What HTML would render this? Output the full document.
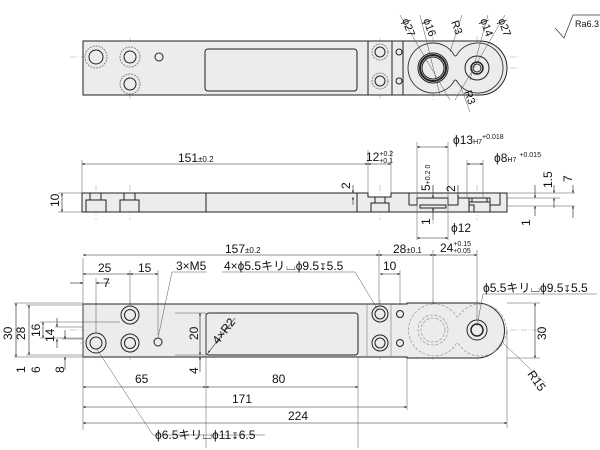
<!DOCTYPE html>
<html><head><meta charset="utf-8"><style>
html,body{margin:0;padding:0;background:#fff;}
svg{display:block;}
text{font-family:"Liberation Sans","Noto Sans CJK JP",sans-serif;fill:#111;}
</style></head><body>
<svg width="600" height="450" viewBox="0 0 600 450" xmlns="http://www.w3.org/2000/svg">
<defs>
<marker id="a" viewBox="0 0 10 10" refX="10" refY="5" markerWidth="6" markerHeight="4" orient="auto-start-reverse"><path d="M0,1 L10,5 L0,9 z" fill="#111"/></marker>
</defs>
<g stroke="#999" stroke-width="0.5" fill="none" stroke-dasharray="6 2 1 2">
<line x1="70" y1="57" x2="520" y2="57"/><line x1="120" y1="84" x2="170" y2="84"/>
<line x1="360" y1="81" x2="412" y2="81"/><line x1="400" y1="68" x2="520" y2="68"/>
<line x1="96" y1="40" x2="96" y2="76"/><line x1="130" y1="38" x2="130" y2="100"/><line x1="159" y1="48" x2="159" y2="66"/>
<line x1="380" y1="38" x2="380" y2="100"/><line x1="399" y1="45" x2="399" y2="92"/>
<line x1="433" y1="36" x2="433" y2="100"/><line x1="477" y1="36" x2="477" y2="100"/>
<line x1="96" y1="185" x2="96" y2="220"/><line x1="130" y1="185" x2="130" y2="220"/><line x1="380" y1="185" x2="380" y2="220"/>
<line x1="433" y1="185" x2="433" y2="225"/><line x1="477" y1="185" x2="477" y2="220"/>
<line x1="70" y1="330" x2="545" y2="330"/><line x1="80" y1="343" x2="170" y2="343"/><line x1="115" y1="315" x2="150" y2="315"/>
<line x1="370" y1="315" x2="410" y2="315"/><line x1="370" y1="343" x2="410" y2="343"/>
<line x1="96" y1="330" x2="96" y2="360"/><line x1="130" y1="300" x2="130" y2="360"/><line x1="158" y1="335" x2="158" y2="350"/>
<line x1="380" y1="300" x2="380" y2="360"/><line x1="400" y1="305" x2="400" y2="350"/>
<line x1="433" y1="300" x2="433" y2="360"/><line x1="477" y1="300" x2="477" y2="360"/>
</g>

<!-- TOP VIEW -->
<path d="M83,41 H480 A27,27 0 0 1 480,95 H83 Z" stroke="#222" stroke-width="1" fill="#ececec"/>
<g stroke="#222" fill="none" stroke-width="1">
<line x1="368" y1="41" x2="368" y2="95"/><line x1="392" y1="41" x2="392" y2="95"/><line x1="403" y1="41" x2="403" y2="95"/>
<path d="M433,43 A25,25 0 0 1 453,53 Q455,59 458,53 A25,25 0 1 1 458,83 Q455,77 453,83 A25,25 0 1 1 433,43 Z" stroke="#333" stroke-width="0.9"/>
<rect x="205" y="49" width="152" height="42" rx="3"/>
<circle cx="96" cy="57" r="7"/><circle cx="96" cy="57" r="11" stroke="#888" stroke-dasharray="2 1"/>
<circle cx="130" cy="57" r="6"/><circle cx="130" cy="57" r="10" stroke="#888" stroke-dasharray="2 1"/>
<circle cx="130" cy="84" r="6"/><circle cx="130" cy="84" r="10" stroke="#888" stroke-dasharray="2 1"/>
<circle cx="159" cy="57" r="4"/>
<circle cx="380" cy="52" r="5"/><circle cx="380" cy="52" r="8" stroke="#888" stroke-dasharray="2 1"/>
<circle cx="380" cy="81" r="5"/><circle cx="380" cy="81" r="8" stroke="#888" stroke-dasharray="2 1"/>
<circle cx="399" cy="52" r="3"/><circle cx="399" cy="81" r="3"/>
<circle cx="433" cy="68" r="13" stroke-width="2"/><circle cx="433" cy="68" r="15"/><circle cx="433" cy="68" r="11"/>
<circle cx="477" cy="68" r="12"/><circle cx="477" cy="68" r="6" stroke-width="1.5"/><circle cx="477" cy="68" r="4"/>
</g>
<g stroke="#555" stroke-width="0.5">
<line x1="400" y1="15" x2="450" y2="100"/><line x1="420" y1="15" x2="440" y2="95"/><line x1="462" y1="15" x2="450" y2="52"/>
<line x1="488" y1="15" x2="470" y2="80"/><line x1="505" y1="15" x2="455" y2="100"/><line x1="460" y1="85" x2="470" y2="112"/>
</g>
<g font-size="11">
<text transform="translate(402,20) rotate(70)">ϕ27</text>
<text transform="translate(423,20) rotate(70)">ϕ16</text>
<text transform="translate(451,22) rotate(70)">R3</text>
<text transform="translate(480,20) rotate(70)">ϕ14</text>
<text transform="translate(498,20) rotate(70)">ϕ27</text>
<text transform="translate(464,92) rotate(70)">R3</text>
</g>
<path d="M555,28 L564,38 L573,15 L600,15" fill="none" stroke="#333" stroke-width="0.7"/>
<text x="575" y="27" font-size="9">Ra6.3</text>

<!-- SIDE VIEW -->
<path d="M82,193 H368 V197 H391 V193 H507 V212 H82 Z" stroke="#222" stroke-width="1" fill="#ececec"/>
<g stroke="#222" stroke-width="1" fill="none">
<line x1="206" y1="193" x2="206" y2="212"/><line x1="357" y1="193" x2="357" y2="212"/><line x1="409" y1="193" x2="409" y2="205"/>
<rect x="86" y="200" width="20" height="12"/><rect x="90" y="193" width="11" height="7"/>
<rect x="120" y="200" width="19" height="12"/><rect x="124" y="193" width="11" height="7"/>
<rect x="371" y="203" width="18" height="9"/><rect x="375" y="197" width="10" height="6"/>
<path d="M409,205 H417 V198 H448 V205 H458 V198 H469 V205 H474 V212"/>
<rect x="420" y="205" width="26" height="3"/>
<path d="M469,198 H490 V205 H500 V193"/>
<rect x="469" y="202" width="21" height="10"/><rect x="472" y="198" width="15" height="4"/>
</g>
<g stroke="#555" stroke-width="0.5" fill="none">
<line x1="82" y1="160" x2="82" y2="193"/><line x1="368" y1="150" x2="368" y2="193"/><line x1="391" y1="150" x2="391" y2="193"/>
<line x1="58" y1="193" x2="82" y2="193"/><line x1="58" y1="212" x2="82" y2="212"/>
<line x1="417" y1="142" x2="417" y2="240"/><line x1="448" y1="142" x2="448" y2="240"/>
<line x1="467" y1="160" x2="467" y2="198"/><line x1="483" y1="160" x2="483" y2="198"/>
<line x1="507" y1="193" x2="575" y2="193"/><line x1="507" y1="198" x2="560" y2="198"/><line x1="507" y1="206" x2="575" y2="206"/>
</g>
<g stroke="#222" stroke-width="0.6" fill="none" marker-end="url(#a)" marker-start="url(#a)">
<line x1="82" y1="164" x2="368" y2="164"/><line x1="368" y1="164" x2="391" y2="164"/>
<line x1="62" y1="193" x2="62" y2="212"/>
<line x1="417" y1="147" x2="448" y2="147"/><line x1="467" y1="164" x2="483" y2="164"/>
<line x1="417" y1="238" x2="448" y2="238"/>
</g>
<g stroke="#222" stroke-width="0.6" marker-end="url(#a)">
<line x1="353" y1="185" x2="353" y2="193"/><line x1="353" y1="205" x2="353" y2="197"/>
<line x1="433" y1="185" x2="433" y2="198"/><line x1="433" y1="220" x2="433" y2="208"/>
<line x1="458" y1="185" x2="458" y2="198"/>
<line x1="535" y1="185" x2="535" y2="198"/><line x1="535" y1="216" x2="535" y2="206"/>
<line x1="554" y1="185" x2="554" y2="193"/><line x1="554" y1="208" x2="554" y2="198"/>
<line x1="573" y1="185" x2="573" y2="193"/><line x1="573" y1="218" x2="573" y2="206"/>
</g>
<g font-size="12">
<text x="178" y="162">151<tspan font-size="8">±0.2</tspan></text>
<text x="366" y="161">12<tspan font-size="7" dy="-5">+0.2</tspan><tspan font-size="7" dx="-14" dy="7">+0.1</tspan></text>
<text transform="translate(59,207) rotate(-90)">10</text>
<text transform="translate(350,189) rotate(-90)">2</text>
<text transform="translate(430,191) rotate(-90)">5<tspan font-size="7">+0.2 0</tspan></text>
<text transform="translate(455,192) rotate(-90)">2</text>
<text transform="translate(430,225) rotate(-90)">1</text>
<text transform="translate(530,226) rotate(-90)">1</text>
<text transform="translate(552,188) rotate(-90)">1.5</text>
<text transform="translate(572,182) rotate(-90)">7</text>
<text x="453" y="144">ϕ13<tspan font-size="7">H7</tspan><tspan font-size="7" dy="-5">+0.018</tspan></text>
<text x="494" y="162">ϕ8<tspan font-size="7">H7</tspan><tspan font-size="7" dx="3" dy="-5">+0.015</tspan></text>
<text x="451" y="232">ϕ12</text>
</g>

<!-- BOTTOM VIEW -->
<path d="M83,304 H407 V303 H477 A27.5,27.5 0 0 1 477,358 H407 V357 H83 Z" stroke="#222" stroke-width="1" fill="#ececec"/>
<g stroke="#222" fill="none" stroke-width="1">
<line x1="367" y1="304" x2="367" y2="357" stroke="#666" stroke-width="0.5"/><line x1="391" y1="304" x2="391" y2="357" stroke="#666" stroke-width="0.5"/>
<rect x="206" y="313" width="152" height="42" rx="3"/>
<circle cx="96" cy="343" r="10"/><circle cx="96" cy="343" r="6"/>
<circle cx="130" cy="315" r="9"/><circle cx="130" cy="315" r="5.5"/>
<circle cx="130" cy="343" r="9"/><circle cx="130" cy="343" r="5.5"/>
<circle cx="158" cy="342" r="4"/>
<circle cx="380" cy="314" r="8"/><circle cx="380" cy="314" r="5"/>
<circle cx="380" cy="343" r="8"/><circle cx="380" cy="343" r="5"/>
<circle cx="400" cy="314" r="3.5"/><circle cx="400" cy="343" r="3.5"/>
<circle cx="477" cy="330" r="10"/><circle cx="477" cy="330" r="6" stroke-width="1.5"/>
<g stroke="#888" stroke-width="0.6" stroke-dasharray="3 1.5">
<path d="M433,304 A26,26 0 0 1 455,314 Q457,320 460,314 A26,26 0 1 1 460,346 Q457,340 455,346 A26,26 0 1 1 433,304 Z"/>
<circle cx="433" cy="330" r="15"/><circle cx="433" cy="330" r="12"/>
</g>
</g>
<g stroke="#555" stroke-width="0.5" fill="none">
<line x1="83" y1="258" x2="83" y2="430"/><line x1="379" y1="250" x2="379" y2="304"/><line x1="433" y1="250" x2="433" y2="304"/><line x1="477" y1="250" x2="477" y2="320"/>
<line x1="96" y1="278" x2="96" y2="333"/><line x1="130" y1="270" x2="130" y2="305"/><line x1="158" y1="270" x2="158" y2="335"/>
<line x1="400" y1="270" x2="400" y2="305"/>
<line x1="206" y1="313" x2="206" y2="448"/><line x1="358" y1="357" x2="358" y2="448"/>
<line x1="407" y1="358" x2="407" y2="410"/><line x1="507" y1="330" x2="507" y2="428"/>
<line x1="14" y1="303" x2="83" y2="303"/><line x1="26" y1="305" x2="83" y2="305"/><line x1="40" y1="322" x2="120" y2="322"/>
<line x1="55" y1="327" x2="83" y2="327"/><line x1="62" y1="339" x2="83" y2="339"/>
<line x1="14" y1="357" x2="83" y2="357"/><line x1="26" y1="355" x2="83" y2="355"/><line x1="40" y1="338" x2="83" y2="338"/>
<line x1="175" y1="313" x2="206" y2="313"/><line x1="175" y1="355" x2="206" y2="355"/>
<line x1="507" y1="303" x2="540" y2="303"/><line x1="507" y1="358" x2="540" y2="358"/>
<line x1="96" y1="348" x2="153" y2="435"/><line x1="153" y1="435" x2="265" y2="435"/>
<line x1="158" y1="338" x2="172" y2="272"/><line x1="172" y1="272" x2="207" y2="272"/>
<line x1="222" y1="272" x2="355" y2="272"/><line x1="355" y1="272" x2="378" y2="310"/>
<line x1="483" y1="294" x2="597" y2="294"/><line x1="483" y1="294" x2="477" y2="326"/>
<line x1="503" y1="343" x2="545" y2="383"/>
</g>
<g stroke="#222" stroke-width="0.6" fill="none" marker-end="url(#a)" marker-start="url(#a)">
<line x1="83" y1="255" x2="379" y2="255"/><line x1="379" y1="255" x2="433" y2="255"/><line x1="433" y1="255" x2="477" y2="255"/>
<line x1="83" y1="274" x2="130" y2="274"/><line x1="130" y1="274" x2="158" y2="274"/>
<line x1="380" y1="274" x2="400" y2="274"/>
<line x1="83" y1="387" x2="206" y2="387"/><line x1="206" y1="387" x2="358" y2="387"/>
<line x1="83" y1="407" x2="407" y2="407"/><line x1="83" y1="423" x2="507" y2="423"/>
<line x1="16" y1="303" x2="16" y2="357"/><line x1="29" y1="305" x2="29" y2="355"/><line x1="43" y1="322" x2="43" y2="338"/>
<line x1="535" y1="303" x2="535" y2="358"/><line x1="200" y1="313" x2="200" y2="355"/>
</g>
<g stroke="#222" stroke-width="0.6" marker-end="url(#a)">
<line x1="70" y1="283" x2="83" y2="283"/><line x1="110" y1="283" x2="96" y2="283"/>
<line x1="57" y1="318" x2="57" y2="327"/><line x1="57" y1="348" x2="57" y2="339"/>
<line x1="65" y1="330" x2="65" y2="339"/><line x1="65" y1="370" x2="65" y2="357"/>
<line x1="200" y1="372" x2="200" y2="357"/>
<line x1="235" y1="318" x2="208" y2="353"/>
</g>
<g font-size="12">
<text x="225" y="253">157<tspan font-size="8">±0.2</tspan></text>
<text x="393" y="253">28<tspan font-size="8">±0.1</tspan></text>
<text x="440" y="252">24<tspan font-size="7" dy="-6">+0.15</tspan><tspan font-size="7" dx="-18" dy="7">+0.05</tspan></text>
<text x="98" y="272">25</text><text x="138" y="272">15</text><text x="103" y="287">7</text>
<text x="176" y="270">3×M5</text>
<text x="224" y="270">4×ϕ5.5キリ<tspan dx="1">⌴</tspan>ϕ9.5<tspan font-size="9">↧</tspan>5.5</text>
<text x="383" y="270">10</text>
<text x="483" y="292">ϕ5.5キリ<tspan>⌴</tspan>ϕ9.5<tspan font-size="9">↧</tspan>5.5</text>
<text transform="translate(12,340) rotate(-90)">30</text>
<text transform="translate(25,340) rotate(-90)">28</text>
<text transform="translate(40,337) rotate(-90)">16</text>
<text transform="translate(54,342) rotate(-90)">14</text>
<text transform="translate(25,373) rotate(-90)">1</text>
<text transform="translate(40,373) rotate(-90)">6</text>
<text transform="translate(64,373) rotate(-90)">8</text>
<text transform="translate(198,340) rotate(-90)">20</text>
<text transform="translate(198,374) rotate(-90)">4</text>
<text transform="translate(546,340) rotate(-90)">30</text>
<text transform="translate(218,345) rotate(-52)">4×R2</text>
<text transform="translate(527,374) rotate(55)">R15</text>
<text x="135" y="383">65</text><text x="272" y="383">80</text>
<text x="232" y="403">171</text><text x="288" y="420">224</text>
<text x="155" y="439">ϕ6.5キリ<tspan>⌴</tspan>ϕ11<tspan font-size="9">↧</tspan>6.5</text>
</g>
</svg>
</body></html>
